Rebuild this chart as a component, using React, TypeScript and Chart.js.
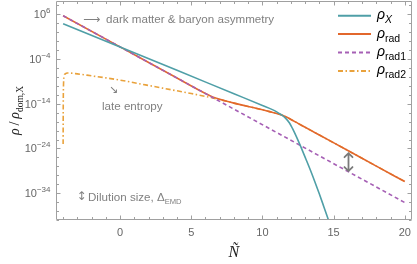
import React, { useEffect, useRef } from "react";
import { Chart, registerables } from "chart.js";

Chart.register(...registerables);

// ---- data (log10 of rho / rho_dom,X) ----
const xRhoX = [-4, 0, 4, 8, 10, 10.7, 11, 11.3, 11.6, 11.9, 12.1, 12.4, 12.7, 13.05, 13.4, 13.7, 14.0, 14.3, 14.65, 14.8];
const logRhoX = [3.92, -1.27, -6.51, -11.75, -14.37, -15.3, -15.8, -16.4, -17.15, -18.3, -19.45, -21.45, -23.65, -26.35, -29.1, -31.6, -34.2, -36.9, -40.1, -41.5];

const xRad = [-4, 0, 4, 6, 6.5, 7, 7.5, 8, 9, 10, 10.5, 11, 11.3, 11.6, 12, 12.5, 13, 13.5, 14, 16, 18, 20];
const logRad = [5.7, -1.27, -8.24, -11.7, -12.45, -13.0, -13.45, -13.85, -14.6, -15.35, -15.75, -16.15, -16.45, -16.85, -17.5, -18.38, -19.25, -20.12, -20.99, -24.45, -27.95, -31.4];

const xRad1 = [-4, 20];
const logRad1 = [5.7, -36.1];

const xRad2 = [-4, -3.99, -3.97, -3.93, -3.85, -3.7, -3, -2, -1, 0, 1, 2, 3, 4, 5, 6, 7, 7.5, 8, 9, 10, 10.5, 11, 11.3, 11.6, 12, 12.5, 13, 13.5, 14, 16, 18, 20];
const logRad2 = [-23, -14, -9.5, -7.8, -7.3, -7.1, -7.3, -7.75, -8.2, -8.7, -9.3, -9.9, -10.5, -11.1, -11.7, -12.35, -13.05, -13.45, -13.85, -14.6, -15.35, -15.75, -16.15, -16.45, -16.85, -17.5, -18.38, -19.25, -20.12, -20.99, -24.45, -27.95, -31.4];

const xTickValues = [0, 5, 10, 15, 20];
const yTickExponents = [-34, -24, -14, -4, 6];

// dilution arrow (x position, log10 top, log10 bottom)
const dilutionX = 16;
const dilutionLogTop = -25.05;
const dilutionLogBottom = -29.05;

const COLORS = {
  x: "#4f9fa7",
  rad: "#e2672c",
  rad1: "#a660b5",
  rad2: "#e9a23c",
  axis: "#a0a0a0",
  label: "#666666",
  note: "#808080",
};

const toPoints = (xs: number[], logs: number[]) =>
  xs.map((x, i) => ({ x, y: Math.pow(10, logs[i]) }));

const SUP: Record<string, string> = { "-": "\u2212" };

type Part = { t: string; font: string; dy: number };

function drawParts(ctx: CanvasRenderingContext2D, parts: Part[], x: number, y: number) {
  let cx = x;
  for (const p of parts) {
    ctx.font = p.font;
    ctx.fillText(p.t, cx, y + p.dy);
    cx += ctx.measureText(p.t).width;
  }
  return cx;
}
function partsWidth(ctx: CanvasRenderingContext2D, parts: Part[]) {
  let w = 0;
  for (const p of parts) {
    ctx.font = p.font;
    w += ctx.measureText(p.t).width;
  }
  return w;
}

const RHO_FONT = "italic 14px 'Liberation Sans'";
const SUB_FONT = "10.5px 'Liberation Sans'";
const legendLabels: Part[][] = [
  [
    { t: "\u03c1", font: RHO_FONT, dy: 0 },
    { t: "X", font: "italic 10.5px 'Liberation Sans'", dy: 4 },
  ],
  [
    { t: "\u03c1", font: RHO_FONT, dy: 0 },
    { t: "rad", font: SUB_FONT, dy: 4 },
  ],
  [
    { t: "\u03c1", font: RHO_FONT, dy: 0 },
    { t: "rad1", font: SUB_FONT, dy: 4 },
  ],
  [
    { t: "\u03c1", font: RHO_FONT, dy: 0 },
    { t: "rad2", font: SUB_FONT, dy: 4 },
  ],
];

const decor = {
  id: "decor",
  afterDraw(chart: any) {
    const { ctx, chartArea: a, scales } = chart;
    const xs = scales.x;
    const ys = scales.y;
    ctx.save();

    // frame
    const L = Math.round(a.left) + 0.5;
    const R = Math.round(a.right) - 0.5;
    const T = Math.round(a.top) + 0.5;
    const B = Math.round(a.bottom) - 0.5;
    ctx.strokeStyle = COLORS.axis;
    ctx.lineWidth = 1;
    ctx.beginPath();
    ctx.moveTo(L, T);
    ctx.lineTo(R, T);
    ctx.lineTo(R, B);
    ctx.lineTo(L, B);
    ctx.closePath();
    ctx.stroke();

    // x ticks (inward, bottom and top)
    ctx.beginPath();
    for (let v = Math.ceil(xs.min); v <= Math.floor(xs.max); v++) {
      const px = Math.round(xs.getPixelForValue(v)) + 0.5;
      const len = v % 5 === 0 ? 4 : 2.5;
      ctx.moveTo(px, B);
      ctx.lineTo(px, B - len);
      ctx.moveTo(px, T);
      ctx.lineTo(px, T + len);
    }
    // y ticks (every 2 decades, major every 10)
    const eMin = Math.ceil(Math.log10(ys.min));
    const eMax = Math.floor(Math.log10(ys.max));
    for (let e = eMin; e <= eMax; e++) {
      if ((e - 6) % 2 !== 0) continue;
      const py = Math.round(ys.getPixelForValue(Math.pow(10, e))) + 0.5;
      const len = (e - 6) % 10 === 0 ? 4 : 2.5;
      ctx.moveTo(L, py);
      ctx.lineTo(L + len, py);
      ctx.moveTo(R, py);
      ctx.lineTo(R - len, py);
    }
    ctx.stroke();

    // y tick labels 10^n
    ctx.fillStyle = COLORS.label;
    ctx.textBaseline = "alphabetic";
    ctx.textAlign = "left";
    for (const t of ys.ticks) {
      const e = Math.round(Math.log10(t.value));
      const py = ys.getPixelForValue(t.value);
      const expStr = String(e).split("").map((c) => SUP[c] || c).join("");
      const parts: Part[] = [
        { t: "10", font: "11px 'Liberation Sans'", dy: 0 },
        { t: expStr, font: "8px 'Liberation Sans'", dy: -5 },
      ];
      const w = partsWidth(ctx, parts);
      drawParts(ctx, parts, 50.5 - w, py + 4);
    }

    // legend
    chart.data.datasets.forEach((ds: any, i: number) => {
      const ly = 15.7 + i * 18.4;
      ctx.save();
      ctx.strokeStyle = ds.borderColor;
      ctx.lineWidth = 2;
      ctx.setLineDash(ds.borderDash || []);
      ctx.beginPath();
      ctx.moveTo(338, ly);
      ctx.lineTo(371, ly);
      ctx.stroke();
      ctx.restore();
      ctx.fillStyle = "#000";
      drawParts(ctx, legendLabels[i], 377, ly + 3.5);
    });

    // annotations
    ctx.fillStyle = COLORS.note;
    ctx.font = "12px 'DejaVu Sans'";
    ctx.textBaseline = "middle";
    ctx.fillText("\u27f6", 83, 19.5);
    ctx.font = "11.6px 'Liberation Sans'";
    ctx.fillText("dark matter & baryon asymmetry", 106, 19.5);
    ctx.font = "11px 'DejaVu Sans'";
    ctx.fillText("\u2198", 109, 90);
    ctx.font = "11.6px 'Liberation Sans'";
    ctx.fillText("late entropy", 102, 106.5);

    ctx.font = "12px 'DejaVu Sans'";
    ctx.fillText("\u2195", 76.5, 196.5);
    ctx.textBaseline = "alphabetic";
    drawParts(
      ctx,
      [
        { t: "Dilution size, \u0394", font: "11.6px 'Liberation Sans'", dy: 0 },
        { t: "EMD", font: "7.6px 'Liberation Sans'", dy: 3 },
      ],
      88,
      201
    );

    // dilution double arrow
    const ax = Math.round(xs.getPixelForValue(dilutionX)) + 0.5;
    const ay1 = ys.getPixelForValue(Math.pow(10, dilutionLogTop));
    const ay2 = ys.getPixelForValue(Math.pow(10, dilutionLogBottom));
    ctx.strokeStyle = "#7a7a7a";
    ctx.lineWidth = 1.8;
    ctx.lineCap = "round";
    ctx.beginPath();
    ctx.moveTo(ax, ay1);
    ctx.lineTo(ax, ay2);
    ctx.moveTo(ax - 4, ay1 + 4);
    ctx.lineTo(ax, ay1);
    ctx.lineTo(ax + 4, ay1 + 4);
    ctx.moveTo(ax - 4, ay2 - 4);
    ctx.lineTo(ax, ay2);
    ctx.lineTo(ax + 4, ay2 - 4);
    ctx.stroke();

    // axis titles
    ctx.fillStyle = "#222";
    ctx.textBaseline = "alphabetic";
    ctx.font = "italic 16px 'Liberation Serif'";
    ctx.textAlign = "center";
    ctx.fillText("\u00d1", (a.left + a.right) / 2, 257);
    ctx.textAlign = "left";

    const yt: Part[] = [
      { t: "\u03c1", font: "italic 14px 'Liberation Serif'", dy: 0 },
      { t: "\u2009/\u2009", font: "14px 'Liberation Serif'", dy: 0 },
      { t: "\u03c1", font: "italic 14px 'Liberation Serif'", dy: 0 },
      { t: "dom,X", font: "9.5px 'Liberation Serif'", dy: 3.5 },
    ];
    ctx.save();
    ctx.translate(15, (a.top + a.bottom) / 2);
    ctx.rotate(-Math.PI / 2);
    const tw = partsWidth(ctx, yt);
    drawParts(ctx, yt, -tw / 2, 4);
    ctx.restore();

    ctx.restore();
  },
};

export default function App() {
  const ref = useRef<HTMLCanvasElement | null>(null);
  useEffect(() => {
    document.body.style.margin = "0";
    const canvas = ref.current!;
    const chart = new Chart(canvas, {
      type: "line",
      data: {
        datasets: [
          {
            label: "rhoX",
            data: toPoints(xRhoX, logRhoX),
            borderColor: COLORS.x,
            borderWidth: 1.6,
            pointRadius: 0,
            cubicInterpolationMode: "monotone",
            order: 0,
          },
          {
            label: "rhoRad",
            data: toPoints(xRad, logRad),
            borderColor: COLORS.rad,
            borderWidth: 1.6,
            pointRadius: 0,
            cubicInterpolationMode: "monotone",
            order: 2,
          },
          {
            label: "rhoRad1",
            data: toPoints(xRad1, logRad1),
            borderColor: COLORS.rad1,
            borderWidth: 1.6,
            borderDash: [4, 3],
            pointRadius: 0,
            order: 1,
          },
          {
            label: "rhoRad2",
            data: toPoints(xRad2, logRad2),
            borderColor: COLORS.rad2,
            borderWidth: 1.6,
            borderDash: [5, 2.5, 1.5, 2.5],
            pointRadius: 0,
            cubicInterpolationMode: "monotone",
            order: 3,
          },
        ],
      },
      options: {
        animation: false,
        responsive: false,
        maintainAspectRatio: false,
        layout: { padding: { top: 1, right: 4, left: 0, bottom: 0 } },
        plugins: { legend: { display: false }, tooltip: { enabled: false } },
        scales: {
          x: {
            type: "linear",
            min: -4.5,
            max: 20.5,
            grid: { display: false, drawTicks: false },
            border: { display: false },
            ticks: {
              color: COLORS.label,
              font: { size: 11, family: "'Liberation Sans'" },
              padding: 6,
              maxRotation: 0,
              autoSkip: false,
            },
            afterBuildTicks: (s: any) => {
              s.ticks = xTickValues.map((v) => ({ value: v }));
            },
            afterFit: (s: any) => {
              s.height = 44;
            },
          },
          y: {
            type: "logarithmic",
            min: 1e-40,
            max: 1e9,
            grid: { display: false, drawTicks: false },
            border: { display: false },
            ticks: { display: false },
            afterBuildTicks: (s: any) => {
              s.ticks = yTickExponents.map((e) => ({ value: Math.pow(10, e) }));
            },
            afterFit: (s: any) => {
              s.width = 56;
            },
          },
        },
      },
      plugins: [decor],
    } as any);
    return () => chart.destroy();
  }, []);
  return (
    <div style={{ width: 417, height: 264 }}>
      <canvas ref={ref} width={417} height={264} style={{ display: "block" }} />
    </div>
  );
}
